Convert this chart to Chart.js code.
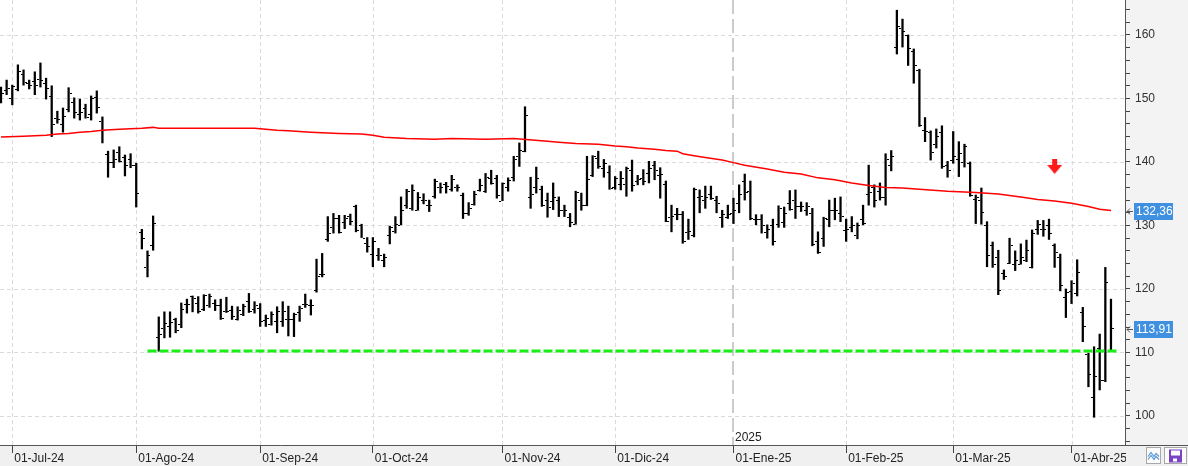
<!DOCTYPE html>
<html>
<head>
<meta charset="utf-8">
<script src="https://cdn.jsdelivr.net/npm/chart.js@4.4.0/dist/chart.umd.min.js"></script>
<style>
  html, body { margin: 0; padding: 0; background: #fff; }
  canvas { display: block; }
</style>
</head>
<body>
<canvas id="myChart" width="1188" height="466"></canvas>
<script>
// daily bars, 27-Jun-24 .. 09-Apr-25 (index = bar number)
var opens = [150.5,151.3,150.0,151.5,153.9,152.5,152.8,153.0,152.5,150.4,
  147.0,146.0,148.3,149.5,147.5,148.5,147.5,150.2,146.5,141.3,
  140.0,141.5,140.8,140.5,139.5,129.0,123.4,126.9,112.4,113.8,
  114.2,115.2,114.5,117.6,118.9,117.8,116.8,117.5,117.8,117.5,
  116.6,116.7,115.2,116.0,118.1,116.8,117.0,115.1,114.5,115.0,
  115.0,115.3,115.2,116.3,117.6,117.4,119.8,122.4,127.8,129.8,
  131.1,130.6,131.5,133.0,130.0,127.2,125.5,125.4,124.5,128.5,
  129.2,130.1,133.2,132.7,132.4,134.0,133.2,134.6,136.0,136.5,
  135.7,136.0,134.8,132.0,133.4,135.6,135.5,137.5,137.5,133.9,
  136.1,137.7,140.9,141.8,134.5,136.0,135.7,134.0,133.9,134.0,
  132.4,131.3,130.2,134.0,133.2,137.9,140.7,139.0,138.5,136.0,
  136.5,136.5,138.8,137.0,137.5,138.3,139.5,138.0,136.5,131.3,
  131.8,131.8,129.0,128.5,134.5,134.0,135.0,134.0,131.4,131.4,
  132.0,133.5,137.0,135.5,131.0,131.0,129.0,130.0,130.2,130.5,
  133.5,134.0,133.0,132.5,132.0,127.5,128.0,131.0,132.4,132.0,
  129.3,129.8,128.5,131.0,134.9,136.1,135.5,134.5,139.6,158.1,
  161.1,160.0,157.5,154.5,145.0,144.8,142.8,144.8,139.5,140.3,
  140.5,140.0,139.8,134.2,134.0,130.0,126.9,125.1,122.5,124.1,
  124.0,124.0,124.5,123.5,129.5,129.5,130.0,127.0,125.0,118.8,
  119.7,119.4,116.4,109.8,103.0,110.7,105.7,110.4];
var highs = [151.8,152.9,152.1,155.3,154.5,152.9,154.2,155.6,153.2,152.0,
  148.0,148.5,151.7,150.1,149.9,149.1,150.4,151.2,147.1,141.7,
  141.9,142.4,141.1,141.3,139.8,129.4,126.0,131.5,115.6,116.4,
  116.4,115.4,117.8,118.4,118.9,118.8,119.1,119.2,118.3,118.4,
  118.7,117.3,117.2,117.6,119.3,118.0,117.7,115.9,116.4,117.2,
  118.0,117.3,116.2,117.3,119.2,118.3,124.7,125.6,131.4,131.9,
  131.6,131.6,131.8,133.2,130.2,128.1,128.1,126.4,125.5,129.9,
  131.4,134.5,135.7,136.4,135.2,135.0,134.0,137.3,136.7,136.8,
  137.9,136.4,135.1,133.6,135.4,137.3,138.2,138.7,137.9,136.7,
  137.5,140.9,143.0,148.7,137.6,139.2,136.2,135.1,136.7,134.5,
  133.2,131.9,135.4,135.1,140.9,141.0,141.7,140.4,139.4,137.7,
  138.5,139.2,140.3,137.9,138.8,140.1,140.1,139.1,137.0,133.2,
  132.7,132.2,131.0,135.9,135.6,136.2,136.2,134.6,132.4,133.2,
  134.3,136.4,138.1,137.0,131.7,131.7,130.1,131.0,133.1,132.9,
  135.5,135.6,133.7,133.6,132.7,129.0,131.3,134.0,134.3,134.5,
  131.0,131.4,130.4,133.2,139.5,136.4,136.7,141.3,141.8,163.9,
  162.5,160.0,157.8,154.6,147.0,144.9,145.2,145.7,140.1,144.8,
  143.2,142.8,140.0,134.8,135.9,130.6,127.4,126.1,123.0,128.0,
  126.0,127.1,127.7,129.3,130.8,130.8,131.0,127.1,125.5,120.0,
  121.3,124.6,117.1,109.9,110.9,112.9,123.4,118.4];
var lows = [149.3,150.6,149.0,151.2,152.1,151.5,150.6,151.8,149.9,144.0,
  146.1,144.7,147.9,146.9,146.6,146.9,146.6,147.7,143.0,137.6,
  139.1,140.0,137.8,139.1,132.9,126.3,121.9,126.1,110.2,112.3,
  112.4,113.1,113.9,116.2,116.4,116.2,116.6,117.1,116.6,115.2,
  116.3,115.2,115.1,115.8,116.3,116.2,114.1,114.1,114.3,113.1,
  114.1,112.6,112.5,114.9,117.1,115.9,119.5,121.9,127.5,128.8,
  128.8,129.5,130.1,129.0,128.1,125.8,123.5,124.5,123.5,127.1,
  128.8,130.1,132.7,132.4,132.4,133.4,132.2,134.3,135.1,135.1,
  135.4,135.4,131.1,131.6,133.2,135.4,135.2,136.5,134.3,133.9,
  135.4,137.0,139.3,141.6,132.7,135.1,133.0,131.3,132.5,131.4,
  131.4,129.8,130.2,132.4,133.1,137.7,139.0,137.6,135.7,135.7,
  135.6,134.6,135.4,136.4,136.4,136.7,137.2,134.3,130.6,129.0,
  130.9,127.2,127.8,128.2,132.0,132.7,134.1,132.0,129.7,131.1,
  130.3,132.0,134.0,130.9,130.1,128.8,128.0,126.9,129.7,129.7,
  132.4,131.1,132.2,131.6,126.8,125.6,126.7,129.8,130.9,130.6,
  127.5,129.0,127.9,130.1,133.2,132.9,134.0,133.2,138.6,157.0,
  158.1,155.2,152.4,145.6,143.2,140.3,142.2,139.0,137.6,139.8,
  137.7,139.2,134.6,130.3,130.2,123.5,123.4,119.1,121.5,124.0,
  122.9,123.9,124.3,123.3,128.6,128.3,127.8,123.4,119.7,115.5,
  117.7,118.9,111.7,104.6,99.8,104.1,105.4,110.4];
var closes = [150.8,151.6,152.0,154.3,152.6,152.2,152.1,152.9,151.6,146.0,
  146.8,147.2,150.8,147.8,147.8,147.1,150.1,148.7,145.0,140.0,
  140.5,140.1,139.5,139.6,135.1,128.1,125.3,130.4,112.9,114.6,
  114.8,113.5,116.8,117.6,118.6,116.5,119.0,118.9,117.5,115.4,
  116.5,115.8,116.7,117.3,116.5,117.5,115.0,115.5,116.0,116.5,
  116.5,115.3,116.0,117.0,117.6,117.4,122.0,122.4,128.8,131.1,
  129.0,131.2,130.7,129.3,128.1,126.8,127.5,125.4,125.1,129.7,
  130.2,132.4,135.5,135.6,134.5,134.0,133.2,137.0,136.0,136.2,
  137.3,136.0,132.0,132.7,135.0,136.4,137.7,136.7,134.8,136.7,
  137.2,140.5,141.9,147.4,135.0,137.5,133.2,132.9,134.5,132.4,
  132.4,130.5,135.3,133.2,137.3,140.9,139.3,139.8,135.9,137.5,
  137.5,139.0,136.4,137.3,137.0,139.0,138.8,138.1,130.7,131.5,
  131.8,127.6,129.2,135.7,134.6,134.5,134.3,133.5,131.8,131.8,
  132.5,135.0,135.3,131.2,131.0,130.0,129.5,127.5,132.8,132.0,
  132.6,133.0,133.0,133.0,127.1,125.9,131.2,132.4,132.5,131.5,
  129.5,130.0,130.0,130.4,135.2,134.0,134.5,140.4,140.9,161.4,
  160.6,157.9,155.3,145.8,144.9,141.6,144.1,139.3,138.8,141.0,
  141.4,142.5,134.8,134.5,132.2,125.4,124.0,119.8,122.0,126.9,
  124.6,125.1,126.1,128.8,130.2,129.5,128.8,125.8,120.6,119.5,
  121.0,122.7,114.1,106.6,106.3,105.7,121.1,113.91];

// moving average (read at selected bars)
var maIdx = [0,4,8,10,12,14,16,18,21,25,27,28,45,47,49,51,55,60,64,66,
  68,72,77,80,86,91,97,99,102,106,109,111,113,116,118,120,121,123,125,128,
  130,132,136,139,142,145,148,151,154,157,160,163,168,173,177,181,184,187,190,193,
  195,197];
var maVal = [143.94,144.05,144.2,144.4,144.5,144.7,144.8,145.0,145.15,145.3,145.45,145.3,145.3,145.15,145.0,144.9,144.7,144.5,144.4,144.2,
  143.9,143.7,143.6,143.7,143.6,143.7,143.25,143.1,142.9,142.8,142.5,142.4,142.2,142.0,141.8,141.7,141.3,141.0,140.7,140.3,
  139.9,139.5,138.9,138.4,138.1,137.5,137.2,136.7,136.3,136.0,135.9,135.7,135.4,135.2,134.96,134.5,134.1,133.86,133.5,133.0,
  132.55,132.36];

// support line and sell signal
var supportVal = 110.25;
var supportFrom = 26;
var supportTo = 198;
var signalIdx = 187;
var signalVal = 139.3;

// axes
var monthIdx = [2,24,46,66,89,109,130,150,169,190];
var monthLabels = ['01-Jul-24','01-Ago-24','01-Sep-24','01-Oct-24','01-Nov-24','01-Dic-24','01-Ene-25','01-Feb-25','01-Mar-25','01-Abr-25'];
var yearIdx = 130;
var yearLabel = '2025';
var yLabels = [100,110,120,130,140,150,160];
var yMin = 95.43, yMax = 165.51;

Chart.defaults.font.family = 'Liberation Sans, Arial, sans-serif';
Chart.defaults.font.size = 12;

function arrowImage() {
  var c = document.createElement('canvas');
  c.width = 15; c.height = 15;
  var g = c.getContext('2d');
  g.fillStyle = '#ff1a1a';
  g.fillRect(5, 0, 5, 6);
  g.beginPath();
  g.moveTo(0, 6); g.lineTo(15, 6); g.lineTo(7.5, 15);
  g.closePath();
  g.fill();
  return c;
}

function fmt(v) { return v.toFixed(2).replace('.', ','); }

// no extra room around the plot: the price axis and date strip are fixed size
function noPad(s) {
  s.paddingTop = 0; s.paddingBottom = 0; s.paddingLeft = 0; s.paddingRight = 0;
}

var decor = {
  id: 'decor',
  beforeDraw: function (chart) {
    var c = chart.ctx, a = chart.chartArea;
    c.save();
    c.fillStyle = '#ffffff';
    c.fillRect(0, 0, chart.width, chart.height);
    c.fillStyle = '#f3f3f3';
    c.fillRect(a.right, 0, chart.width - a.right, a.bottom);
    c.fillStyle = '#f0f0f0';
    c.fillRect(0, a.bottom, chart.width, chart.height - a.bottom);
    c.restore();
  },
  beforeDatasetsDraw: function (chart) {
    var c = chart.ctx, a = chart.chartArea;
    var xs = chart.scales.x, ys = chart.scales.y;
    c.save();
    c.lineWidth = 1;
    c.strokeStyle = '#dadada';
    c.setLineDash([4, 3]);
    yLabels.forEach(function (v) {
      var y = Math.round(ys.getPixelForValue(v)) + 0.5;
      c.beginPath(); c.moveTo(a.left, y); c.lineTo(a.right, y); c.stroke();
    });
    monthIdx.forEach(function (v) {
      if (v === yearIdx) return;
      var x = Math.round(xs.getPixelForValue(v)) + 0.5;
      c.beginPath(); c.moveTo(x, a.top); c.lineTo(x, a.bottom); c.stroke();
    });
    var xy = Math.round(xs.getPixelForValue(yearIdx));
    c.strokeStyle = '#cccccc';
    c.lineWidth = 2;
    c.setLineDash([14, 5]);
    c.beginPath(); c.moveTo(xy, a.top); c.lineTo(xy, a.bottom); c.stroke();
    c.setLineDash([]);
    c.fillStyle = '#222';
    c.font = '12px Liberation Sans, Arial, sans-serif';
    c.textBaseline = 'middle';
    c.textAlign = 'left';
    c.fillText(yearLabel, xy + 2, a.bottom - 7);
    c.restore();
  },
  afterDatasetDraw: function (chart, args) {
    if (args.index !== 0) return;
    var c = chart.ctx, xs = chart.scales.x, ys = chart.scales.y;
    c.save();
    c.fillStyle = '#000';
    for (var i = 0; i < opens.length; i++) {
      var x = Math.round(xs.getPixelForValue(i));
      c.fillRect(x - 3, Math.round(ys.getPixelForValue(opens[i])), 2, 1);
      c.fillRect(x + 1, Math.round(ys.getPixelForValue(closes[i])), 2, 1);
    }
    c.restore();
  },
  afterDraw: function (chart) {
    var c = chart.ctx, a = chart.chartArea, ys = chart.scales.y;
    c.save();
    // clip last date label at the price axis
    c.fillStyle = '#f0f0f0';
    c.fillRect(a.right + 1, a.bottom + 1, chart.width - a.right, chart.height - a.bottom);
    c.strokeStyle = '#555';
    c.lineWidth = 1;
    c.beginPath(); c.moveTo(a.right, a.bottom + 0.5); c.lineTo(chart.width, a.bottom + 0.5); c.stroke();

    function tag(v) {
      var top = Math.round(ys.getPixelForValue(v)) - 7;
      c.fillStyle = '#3f90e0';
      c.fillRect(a.right + 9, top, 39, 17);
      c.fillStyle = '#ffffff';
      c.font = '12px Liberation Sans, Arial, sans-serif';
      c.textAlign = 'left';
      c.textBaseline = 'middle';
      c.fillText(fmt(v), a.right + 11, top + 9);
      c.strokeStyle = '#555';
      c.beginPath();
      c.moveTo(a.right + 2, top + 8.5); c.lineTo(a.right + 8, top + 8.5);
      c.moveTo(a.right + 5, top + 5.5); c.lineTo(a.right + 2, top + 8.5); c.lineTo(a.right + 5, top + 11.5);
      c.stroke();
    }
    tag(maVal[maVal.length - 1]);
    tag(closes[closes.length - 1]);

    // little toolbar buttons
    var by = a.bottom + 2.5;
    c.fillStyle = '#fbfbfb';
    c.strokeStyle = '#a8a8a8';
    c.fillRect(1146.5, by, 14, 16); c.strokeRect(1146.5, by, 14, 16);
    c.fillRect(1164.5, by, 22, 16); c.strokeRect(1164.5, by, 22, 16);
    c.strokeStyle = '#5b9bd5';
    c.lineWidth = 1.2;
    c.beginPath();
    c.moveTo(1148, by + 9); c.lineTo(1151, by + 5); c.lineTo(1154, by + 9); c.lineTo(1156, by + 6); c.lineTo(1159, by + 9);
    c.moveTo(1148, by + 12); c.lineTo(1151, by + 8); c.lineTo(1154, by + 12); c.lineTo(1156, by + 9); c.lineTo(1159, by + 12);
    c.stroke();
    c.fillStyle = '#7a44c4';
    c.fillRect(1169, by + 2, 13, 13);
    c.fillStyle = '#ffffff';
    c.fillRect(1171, by + 3, 9, 5);
    c.fillRect(1173, by + 11, 4, 3);
    c.restore();
  }
};

var ctx = document.getElementById('myChart').getContext('2d');
var chart = new Chart(ctx, {
  type: 'bar',
  data: {
    datasets: [
      {
        // high-low range of each bar
        type: 'bar',
        data: highs.map(function (h, i) { return { x: i, y: [lows[i], h] }; }),
        backgroundColor: '#000',
        barThickness: 1.6,
        borderWidth: 0,
        order: 3
      },
      {
        type: 'line',
        data: maIdx.map(function (x, i) { return { x: x, y: maVal[i] }; }),
        borderColor: '#ff0000',
        borderWidth: 1.5,
        pointRadius: 0,
        tension: 0,
        fill: false,
        order: 2
      },
      {
        type: 'line',
        data: [{ x: supportFrom, y: supportVal }, { x: supportTo, y: supportVal }],
        borderColor: '#19ee19',
        borderWidth: 3,
        borderDash: [9, 3],
        pointRadius: 0,
        fill: false,
        order: 1
      },
      {
        type: 'scatter',
        data: [{ x: signalIdx, y: signalVal }],
        pointStyle: arrowImage(),
        pointRadius: 8,
        order: 0
      }
    ]
  },
  options: {
    responsive: false,
    animation: false,
    devicePixelRatio: 1,
    events: [],
    layout: { padding: 0, autoPadding: false },
    plugins: { legend: { display: false }, tooltip: { enabled: false } },
    scales: {
      x: {
        type: 'linear',
        offset: false,
        min: -0.1775,
        max: 199.49,
        afterBuildTicks: function (s) { s.ticks = monthIdx.map(function (v) { return { value: v }; }); },
        afterFit: function (s) { s.height = 21; noPad(s); },
        grid: { drawOnChartArea: false, drawTicks: true, tickLength: 8, tickColor: '#444', offset: false },
        border: { color: '#555', width: 1 },
        ticks: {
          autoSkip: false,
          maxRotation: 0,
          align: 'start',
          labelOffset: 2,
          padding: -2,
          color: '#222',
          font: { size: 12 },
          callback: function (v, i) { return monthLabels[i]; }
        }
      },
      y: {
        type: 'linear',
        position: 'right',
        min: yMin,
        max: yMax,
        afterBuildTicks: function (s) {
          var t = [];
          for (var v = 96; v <= 164; v += 2) t.push({ value: v });
          s.ticks = t;
        },
        afterFit: function (s) { s.width = 63; noPad(s); },
        grid: { drawOnChartArea: false, drawTicks: true, tickLength: 5, tickColor: '#444' },
        border: { color: '#555', width: 1 },
        ticks: {
          autoSkip: false,
          padding: 5,
          color: '#333',
          font: { size: 12 },
          callback: function (v) { return yLabels.indexOf(v) >= 0 ? String(v) : ''; }
        }
      }
    }
  },
  plugins: [decor]
});
</script>
</body>
</html>
